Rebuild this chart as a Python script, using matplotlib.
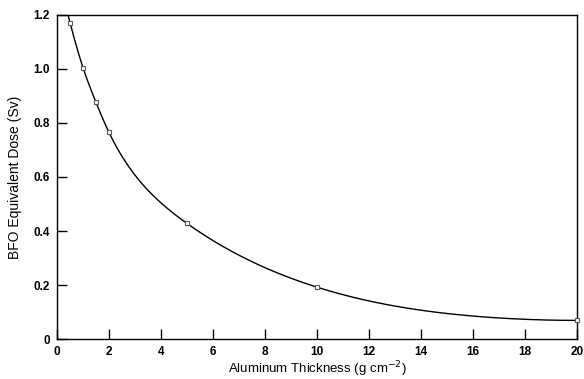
import numpy as np
import matplotlib
matplotlib.use("Agg")
import matplotlib.pyplot as plt

plt.rcParams["font.family"] = ["Liberation Sans", "DejaVu Sans"]

# Measured dose behind aluminum shielding
thickness = [0.5, 1.0, 1.5, 2.0, 5.0, 10.0, 20.0]
dose = [1.172, 1.005, 0.876, 0.765, 0.428, 0.192, 0.069]

x_ticks = [0, 2, 4, 6, 8, 10, 12, 14, 16, 18, 20]
y_ticks = [0, 0.2, 0.4, 0.6, 0.8, 1.0, 1.2]
y_tick_labels = ["0", "0.2", "0.4", "0.6", "0.8", "1.0", "1.2"]


def cubic_spline(x, y, end_slope=0.0):
    """Cubic spline: natural at the left end, given slope at the right end."""
    x = np.asarray(x, float)
    y = np.asarray(y, float)
    n = len(x) - 1
    h = np.diff(x)
    A = np.zeros((n + 1, n + 1))
    r = np.zeros(n + 1)
    A[0, 0] = 1.0
    for i in range(1, n):
        A[i, i - 1] = h[i - 1]
        A[i, i] = 2 * (h[i - 1] + h[i])
        A[i, i + 1] = h[i]
        r[i] = 6 * ((y[i + 1] - y[i]) / h[i] - (y[i] - y[i - 1]) / h[i - 1])
    A[n, n - 1] = h[n - 1]
    A[n, n] = 2 * h[n - 1]
    r[n] = 6 * (end_slope - (y[n] - y[n - 1]) / h[n - 1])
    M = np.linalg.solve(A, r)

    def f(t):
        t = np.asarray(t, float)
        i = np.clip(np.searchsorted(x, t) - 1, 0, n - 1)
        hi = h[i]
        a = x[i + 1] - t
        b = t - x[i]
        return (M[i] * a ** 3 / (6 * hi) + M[i + 1] * b ** 3 / (6 * hi)
                + (y[i] / hi - M[i] * hi / 6) * a
                + (y[i + 1] / hi - M[i + 1] * hi / 6) * b)
    return f


fig = plt.figure(figsize=(5.84, 3.79), dpi=100)
ax = fig.add_axes([0.0976, 0.1055, 0.8904, 0.855])

# Smooth curve through the points, interpolated in log-dose
log_curve = cubic_spline(thickness, np.log(dose))
xf = np.linspace(0.3, 20, 500)
ax.plot(xf, np.exp(log_curve(xf)), color="black", lw=1.0, zorder=2)

ax.plot(thickness, dose, linestyle="none", marker="s", markersize=3.5,
        markerfacecolor="white", markeredgecolor="#555555", markeredgewidth=0.8,
        zorder=3, clip_on=False)

ax.set_xlim(0, 20)
ax.set_ylim(0, 1.2)
ax.set_xticks(x_ticks)
ax.set_xticklabels([str(v) for v in x_ticks])
ax.set_yticks(y_ticks)
ax.set_yticklabels(y_tick_labels)
ax.tick_params(direction="in", length=7, width=1.0, labelsize=8.5,
               top=False, right=False)
ax.tick_params(axis="x", pad=5)
ax.tick_params(axis="y", pad=5)
for lab in ax.get_xticklabels() + ax.get_yticklabels():
    lab.set_fontweight("bold")
for s in ax.spines.values():
    s.set_linewidth(1.0)

ax.set_xlabel("Aluminum Thickness (g cm$^{-2}$)", fontsize=9.5, va="baseline")
ax.xaxis.set_label_coords(0.5, -0.106)
ax.set_ylabel("BFO Equivalent Dose (Sv)", fontsize=10, va="center")
ax.yaxis.set_label_coords(-0.081, 0.5)

fig.savefig("out.png", dpi=100)
